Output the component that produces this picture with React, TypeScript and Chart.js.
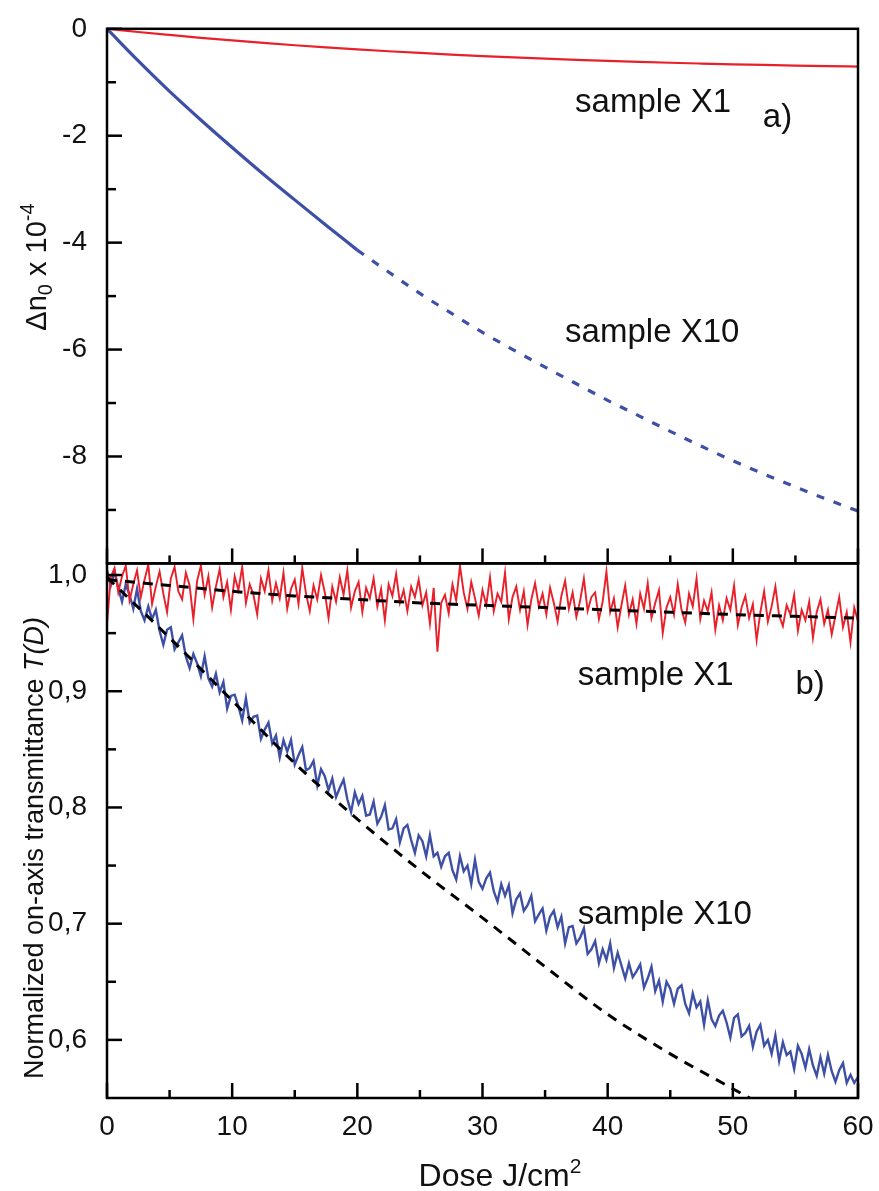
import React, { useEffect, useRef } from 'react';
import { Chart, registerables } from 'chart.js';

Chart.register(...registerables);

const FONT = '"Liberation Sans", Arial, Helvetica, sans-serif';
const RED = '#e8202a';
const BLUE = '#3e50a6';
const INK = '#111111';

// ---------- panel a) : refractive index change ----------
const topDose = [0, 2.5, 5, 7.5, 10, 12.5, 15, 17.5, 20, 22.5, 25, 27.5, 30, 32.5, 35, 37.5, 40, 42.5, 45, 47.5, 50, 52.5, 55, 57.5, 60];
const topX1 = [0, -0.06, -0.115, -0.168, -0.218, -0.265, -0.308, -0.348, -0.385, -0.42, -0.452, -0.482, -0.51, -0.535, -0.558, -0.58, -0.6, -0.618, -0.635, -0.65, -0.664, -0.676, -0.687, -0.697, -0.706];
const topX10SolidDose = [0, 2.5, 5, 7.5, 10, 12.5, 15, 17.5, 20];
const topX10Solid = [0, -0.6, -1.17, -1.705, -2.22, -2.72, -3.2, -3.675, -4.14];
const topX10DashDose = [20, 22.5, 25, 27.5, 30, 32.5, 35, 37.5, 40, 42.5, 45, 47.5, 50, 52.5, 55, 57.5, 60];
const topX10Dash = [-4.14, -4.55, -4.95, -5.32, -5.68, -6.01, -6.33, -6.64, -6.95, -7.24, -7.53, -7.81, -8.08, -8.33, -8.57, -8.8, -9.02];

// ---------- panel b) : normalized on-axis transmittance ----------
const measuredDoseStep = 0.3; // J/cm2 between recorded samples
const measX1 = [
  0.958, 0.998, 1.006, 0.985, 0.999, 1.008, 0.978, 0.992, 1.004, 0.981,
  0.996, 1.009, 0.975, 0.990, 1.003, 0.984, 0.968, 0.997, 1.007, 0.986,
  0.979, 1.002, 0.991, 0.962, 0.995, 1.008, 0.983, 0.999, 0.972, 0.990,
  1.005, 0.981, 0.994, 0.970, 0.999, 0.987, 1.007, 0.976, 0.992, 0.983,
  0.966, 0.997, 0.986, 1.004, 0.978, 0.993, 0.980, 1.002, 0.971, 0.988,
  0.996, 0.975, 1.006, 0.984, 0.969, 0.991, 0.979, 1.000, 0.985, 0.963,
  0.990, 0.977, 0.998, 0.983, 1.004, 0.972, 0.986, 0.994, 0.968, 0.989,
  0.980, 0.997, 0.973, 0.988, 0.961, 0.992, 0.982, 1.001, 0.976, 0.987,
  0.969, 0.990, 0.981, 0.996, 0.974, 0.985, 0.958, 0.989, 0.934, 0.976,
  0.983, 0.967, 0.992, 0.978, 1.008, 0.985, 0.971, 0.994, 0.980, 0.965,
  0.987, 0.974, 0.998, 0.969, 0.984, 0.977, 1.002, 0.962, 0.981, 0.990,
  0.970, 0.986, 0.957, 0.979, 0.993, 0.973, 0.984, 0.966, 0.989, 0.976,
  0.960, 0.982, 0.995, 0.971, 0.985, 0.964, 0.978, 0.997, 0.969, 0.981,
  0.985, 0.962, 0.977, 1.003, 0.968, 0.980, 0.955, 0.974, 0.991, 0.966,
  0.979, 0.958, 0.984, 0.971, 0.993, 0.963, 0.976, 0.987, 0.950, 0.972,
  0.981, 0.966, 0.992, 0.970, 0.959, 0.984, 0.973, 0.997, 0.962, 0.978,
  0.969, 0.985, 0.953, 0.974, 0.961, 0.980, 0.970, 0.991, 0.957, 0.972,
  0.982, 0.963, 0.975, 0.944, 0.968, 0.986, 0.960, 0.973, 0.990, 0.965,
  0.956, 0.974, 0.966, 0.983, 0.952, 0.970, 0.961, 0.977, 0.946, 0.968,
  0.979, 0.958, 0.970, 0.949, 0.965, 0.981, 0.955, 0.968, 0.942, 0.972,
  0.960,
];
const measX10 = [
  1.004, 0.991, 1.003, 0.989, 0.977, 0.992, 0.983, 0.971, 0.988, 0.969,
  0.961, 0.973, 0.962, 0.970, 0.952, 0.940, 0.953, 0.955, 0.936, 0.942,
  0.948, 0.930, 0.920, 0.932, 0.924, 0.913, 0.930, 0.911, 0.904, 0.915,
  0.899, 0.908, 0.885, 0.896, 0.897, 0.887, 0.875, 0.894, 0.873, 0.878,
  0.879, 0.859, 0.867, 0.873, 0.855, 0.862, 0.843, 0.858, 0.848, 0.858,
  0.837, 0.845, 0.852, 0.832, 0.834, 0.840, 0.819, 0.833, 0.827, 0.815,
  0.825, 0.809, 0.817, 0.824, 0.807, 0.796, 0.813, 0.803, 0.810, 0.793,
  0.794, 0.805, 0.786, 0.792, 0.802, 0.781, 0.782, 0.790, 0.770, 0.782,
  0.785, 0.772, 0.761, 0.776, 0.771, 0.758, 0.776, 0.758, 0.761, 0.749,
  0.758, 0.761, 0.746, 0.738, 0.758, 0.745, 0.750, 0.734, 0.755, 0.736,
  0.730, 0.739, 0.744, 0.728, 0.719, 0.734, 0.724, 0.733, 0.709, 0.721,
  0.726, 0.711, 0.716, 0.724, 0.702, 0.708, 0.713, 0.694, 0.706, 0.711,
  0.697, 0.706, 0.683, 0.697, 0.698, 0.683, 0.688, 0.696, 0.674, 0.678,
  0.685, 0.666, 0.678, 0.669, 0.683, 0.662, 0.675, 0.664, 0.653, 0.666,
  0.654, 0.659, 0.665, 0.645, 0.653, 0.663, 0.642, 0.651, 0.633, 0.650,
  0.644, 0.631, 0.644, 0.647, 0.631, 0.623, 0.640, 0.628, 0.633, 0.613,
  0.634, 0.618, 0.612, 0.621, 0.625, 0.615, 0.602, 0.619, 0.622, 0.603,
  0.606, 0.612, 0.594, 0.607, 0.613, 0.595, 0.600, 0.588, 0.604, 0.582,
  0.598, 0.587, 0.590, 0.575, 0.595, 0.588, 0.576, 0.592, 0.578, 0.569,
  0.585, 0.571, 0.587, 0.573, 0.564, 0.574, 0.580, 0.563, 0.570, 0.563,
  0.568,
];
const fitX1Dose = [0, 5, 10, 15, 20, 25, 30, 35, 40, 45, 50, 55, 60];
const fitX1 = [0.996, 0.991, 0.986, 0.982, 0.979, 0.976, 0.974, 0.972, 0.970, 0.968, 0.966, 0.9645, 0.963];
const fitX10Dose = [0, 5, 10, 15, 20, 25, 30, 35, 40, 45, 50, 52.5];
const fitX10 = [0.998, 0.946, 0.892, 0.838, 0.79, 0.746, 0.705, 0.663, 0.622, 0.588, 0.558, 0.543];

// ---------- ticks ----------
const doseMajor = [0, 10, 20, 30, 40, 50, 60];
const doseMinor = [5, 15, 25, 35, 45, 55];
const topMajor = [0, -2, -4, -6, -8];
const topMinor = [-1, -3, -5, -7, -9];
const botMajor = [1.0, 0.9, 0.8, 0.7, 0.6];
const botMinor = [0.95, 0.85, 0.75, 0.65];

const pts = (xs: number[], ys: number[]) => ys.map((y, i) => ({ x: xs[i], y }));
const measuredPts = (ys: number[]) => ys.map((y, i) => ({ x: +(i * measuredDoseStep).toFixed(2), y }));

function drawRich(ctx: CanvasRenderingContext2D, parts: { t: string; size: number; italic?: boolean; dy?: number }[], cx: number, baseline: number) {
  let total = 0;
  const widths = parts.map(p => {
    ctx.font = `${p.italic ? 'italic ' : ''}${p.size}px ${FONT}`;
    const w = ctx.measureText(p.t).width;
    total += w;
    return w;
  });
  let x = cx - total / 2;
  parts.forEach((p, i) => {
    ctx.font = `${p.italic ? 'italic ' : ''}${p.size}px ${FONT}`;
    ctx.fillText(p.t, x, baseline + (p.dy || 0));
    x += widths[i];
  });
}

const decorPlugin = {
  id: 'decor',
  afterDraw(chart: any) {
    const ctx: CanvasRenderingContext2D = chart.ctx;
    const xs = chart.scales.x;
    const yt = chart.scales.yTop;
    const yb = chart.scales.yBot;
    ctx.save();
    ctx.strokeStyle = '#000';
    ctx.lineWidth = 2.5;
    ctx.lineCap = 'butt';
    ctx.strokeRect(xs.left, yt.top, xs.right - xs.left, yt.bottom - yt.top);
    ctx.strokeRect(xs.left, yb.top, xs.right - xs.left, yb.bottom - yb.top);
    const seg = (x1: number, y1: number, x2: number, y2: number) => {
      ctx.beginPath();
      ctx.moveTo(x1, y1);
      ctx.lineTo(x2, y2);
      ctx.stroke();
    };
    topMajor.forEach(v => { const y = yt.getPixelForValue(v); seg(xs.left, y, xs.left + 15, y); });
    topMinor.forEach(v => { const y = yt.getPixelForValue(v); seg(xs.left, y, xs.left + 9, y); });
    botMajor.forEach(v => { const y = yb.getPixelForValue(v); seg(xs.left, y, xs.left + 15, y); });
    botMinor.forEach(v => { const y = yb.getPixelForValue(v); seg(xs.left, y, xs.left + 9, y); });
    doseMajor.forEach(v => {
      const x = xs.getPixelForValue(v);
      seg(x, yt.bottom, x, yt.bottom - 15);
      seg(x, yb.bottom, x, yb.bottom - 15);
    });
    doseMinor.forEach(v => {
      const x = xs.getPixelForValue(v);
      seg(x, yt.bottom, x, yt.bottom - 8);
      seg(x, yb.bottom, x, yb.bottom - 8);
    });

    ctx.fillStyle = INK;
    ctx.textBaseline = 'alphabetic';
    ctx.textAlign = 'left';
    ctx.font = `33px ${FONT}`;
    ctx.fillText('sample X1', xs.getPixelForValue(37.4), yt.getPixelForValue(-1.55));
    ctx.fillText('a)', xs.getPixelForValue(52.4), yt.getPixelForValue(-1.84));
    ctx.fillText('sample X10', xs.getPixelForValue(36.6), yt.getPixelForValue(-5.85));
    ctx.fillText('sample X1', xs.getPixelForValue(37.6), yb.getPixelForValue(0.905));
    ctx.fillText('b)', xs.getPixelForValue(55), yb.getPixelForValue(0.898));
    ctx.fillText('sample X10', xs.getPixelForValue(37.6), yb.getPixelForValue(0.70));

    // x title
    drawRich(ctx, [
      { t: 'Dose J/cm', size: 32 },
      { t: '2', size: 21, dy: -13 },
    ], 500, 1186);

    // y title, top panel
    ctx.save();
    ctx.translate(46, 267);
    ctx.rotate(-Math.PI / 2);
    drawRich(ctx, [
      { t: '\u0394n', size: 29 },
      { t: '0', size: 20, dy: 6 },
      { t: ' x 10', size: 29 },
      { t: '-4', size: 20, dy: -12 },
    ], 0, 0);
    ctx.restore();

    // y title, bottom panel
    ctx.save();
    ctx.translate(43, 848);
    ctx.rotate(-Math.PI / 2);
    drawRich(ctx, [
      { t: 'Normalized on-axis transmittance ', size: 27 },
      { t: 'T(D)', size: 27, italic: true },
    ], 0, 0);
    ctx.restore();
    ctx.restore();
  },
};

export default function App() {
  const ref = useRef<HTMLCanvasElement | null>(null);
  useEffect(() => {
    if (!ref.current) return;
    const tickFont = { family: FONT, size: 28 };
    const chart = new Chart(ref.current, {
      type: 'line',
      data: {
        datasets: [
          { label: 'fit X1', data: pts(fitX1Dose, fitX1), xAxisID: 'x', yAxisID: 'yBot', borderColor: '#000', borderWidth: 3, borderDash: [10, 8], pointRadius: 0, cubicInterpolationMode: 'monotone' },
          { label: 'fit X10', data: pts(fitX10Dose, fitX10), xAxisID: 'x', yAxisID: 'yBot', borderColor: '#000', borderWidth: 3, borderDash: [10, 8], pointRadius: 0, cubicInterpolationMode: 'monotone' },
          { label: 'T X1', data: measuredPts(measX1), xAxisID: 'x', yAxisID: 'yBot', borderColor: RED, borderWidth: 1.9, pointRadius: 0, tension: 0 },
          { label: 'T X10', data: measuredPts(measX10), xAxisID: 'x', yAxisID: 'yBot', borderColor: BLUE, borderWidth: 2.4, pointRadius: 0, tension: 0 },
          { label: 'dn X1', data: pts(topDose, topX1), xAxisID: 'x', yAxisID: 'yTop', borderColor: RED, borderWidth: 2.2, pointRadius: 0, cubicInterpolationMode: 'monotone' },
          { label: 'dn X10', data: pts(topX10SolidDose, topX10Solid), xAxisID: 'x', yAxisID: 'yTop', borderColor: BLUE, borderWidth: 3.2, pointRadius: 0, cubicInterpolationMode: 'monotone' },
          { label: 'dn X10 ext', data: pts(topX10DashDose, topX10Dash), xAxisID: 'x', yAxisID: 'yTop', borderColor: BLUE, borderWidth: 3.2, borderDash: [8, 10], pointRadius: 0, cubicInterpolationMode: 'monotone' },
        ],
      },
      options: {
        animation: false,
        responsive: false,
        events: [],
        layout: { padding: { left: 0, right: 21, top: 24, bottom: 0 } },
        plugins: { legend: { display: false }, tooltip: { enabled: false } },
        scales: {
          x: {
            type: 'linear', position: 'bottom', min: 0, max: 60,
            grid: { display: false }, border: { display: false },
            ticks: { font: tickFont, color: INK, padding: 4, maxRotation: 0, autoSkip: false },
            afterBuildTicks: (s: any) => { s.ticks = doseMajor.map(v => ({ value: v })); },
            afterFit: (s: any) => { s.height = 93; },
          },
          yBot: {
            type: 'linear', position: 'left', stack: 'panels', stackWeight: 1, min: 0.55, max: 1.01,
            grid: { display: false }, border: { display: false },
            ticks: { font: tickFont, color: INK, padding: 12, callback: (v: any) => Number(v).toFixed(1).replace('.', ',') },
            afterBuildTicks: (s: any) => { s.ticks = botMajor.map(v => ({ value: v })); },
            afterFit: (s: any) => { s.width = 107; },
          },
          yTop: {
            type: 'linear', position: 'left', stack: 'panels', stackWeight: 1, min: -10, max: 0,
            grid: { display: false }, border: { display: false },
            ticks: { font: tickFont, color: INK, padding: 12, callback: (v: any) => String(v) },
            afterBuildTicks: (s: any) => { s.ticks = topMajor.map(v => ({ value: v })); },
            afterFit: (s: any) => { s.width = 107; },
          },
        },
      } as any,
      plugins: [decorPlugin],
    });
    return () => chart.destroy();
  }, []);
  return (
    <div style={{ position: 'absolute', left: 0, top: 0, width: 879, height: 1191, background: '#fff' }}>
      <canvas ref={ref} width={879} height={1191} style={{ display: 'block' }} />
    </div>
  );
}
